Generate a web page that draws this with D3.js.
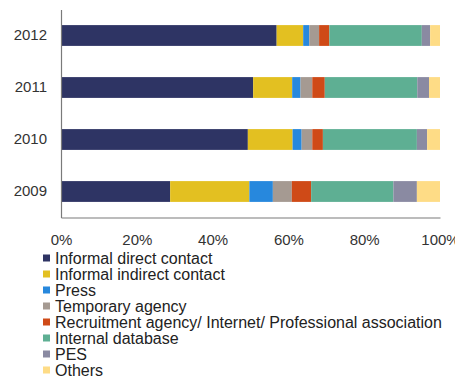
<!DOCTYPE html>
<html>
<head>
<meta charset="utf-8">
<script src="https://cdn.jsdelivr.net/npm/d3@7"></script>
<style>
  html, body { margin: 0; padding: 0; background: #fff; }
  svg { display: block; }
  svg text { font-family: "Liberation Sans", Arial, sans-serif; }
</style>
</head>
<body>
<svg id="chart" width="455" height="378"></svg>
<script>
// Recruitment channels by year (share of hires, %)
const years = ["2012", "2011", "2010", "2009"];
const channels = [
  "Informal direct contact",
  "Informal indirect contact",
  "Press",
  "Temporary agency",
  "Recruitment agency/ Internet/ Professional association",
  "Internal database",
  "PES",
  "Others"
];
const informalDirect   = [56.9, 50.7, 49.3, 28.8];
const informalIndirect = [7.0, 10.3, 11.8, 20.9];
const press            = [1.6, 2.2, 2.4, 6.2];
const temporaryAgency  = [2.6, 3.1, 2.8, 5.0];
const recruitmentAgency= [2.7, 3.3, 2.8, 5.1];
const internalDatabase = [24.4, 24.4, 24.8, 21.7];
const pes              = [2.2, 3.1, 2.7, 6.2];
const others           = [2.6, 2.9, 3.4, 6.1];
const xTicks = [0, 20, 40, 60, 80, 100];
const colors = ["#2e3464", "#e3c021", "#2788dd", "#a59a92", "#cf4a17", "#5eaf93", "#8a8aa2", "#fedc86"];

const seriesValues = [informalDirect, informalIndirect, press, temporaryAgency,
                      recruitmentAgency, internalDatabase, pes, others];
const table = years.map((yr, i) => {
  const row = { year: yr };
  channels.forEach((c, k) => { row[c] = seriesValues[k][i]; });
  return row;
});

const svg = d3.select("#chart");
const plot = { left: 61, right: 440, top: 9.5, bottom: 217.5 };
const FONT = "'Liberation Sans', Arial, sans-serif";

const x = d3.scaleLinear().domain([0, 100]).range([plot.left, plot.right]);
const y = d3.scaleBand().domain(years).range([plot.top, plot.bottom]).paddingInner(0.6).paddingOuter(0.3);
const color = d3.scaleOrdinal().domain(channels).range(colors);

const stacked = d3.stack().keys(channels)(table);

svg.append("g")
  .selectAll("g")
  .data(stacked)
  .join("g")
  .attr("fill", d => color(d.key))
  .selectAll("rect")
  .data(d => d)
  .join("rect")
  .attr("x", d => x(d[0]))
  .attr("width", d => x(d[1]) - x(d[0]))
  .attr("y", d => y(d.data.year))
  .attr("height", y.bandwidth());

// Axes
const xAxis = svg.append("g")
  .attr("transform", `translate(0,${plot.bottom})`)
  .call(d3.axisBottom(x).tickValues(xTicks).tickFormat(d => d + "%").tickSize(0).tickPadding(17));
xAxis.attr("font-family", null);
xAxis.select(".domain").attr("stroke", "#7a7a7a").attr("stroke-width", 1.2);
xAxis.selectAll("text").style("font-family", FONT).style("font-size", "15px").attr("fill", "#333");

const yAxis = svg.append("g")
  .attr("transform", `translate(${plot.left},0)`)
  .call(d3.axisLeft(y).tickSize(0).tickPadding(14));
yAxis.attr("font-family", null);
yAxis.select(".domain").attr("stroke", "#7a7a7a").attr("stroke-width", 1.2);
yAxis.selectAll("text").style("font-family", FONT).style("font-size", "15px").attr("fill", "#333");

// Legend
const legend = svg.append("g").attr("transform", "translate(43,258)");
const item = legend.selectAll("g")
  .data(channels)
  .join("g")
  .attr("transform", (d, i) => `translate(0,${i * 16})`);
item.append("rect")
  .attr("x", 0).attr("y", -3.5)
  .attr("width", 7).attr("height", 7)
  .attr("fill", d => color(d));
item.append("text")
  .attr("x", 12).attr("y", 0)
  .attr("dy", "0.35em")
  .style("font-family", FONT)
  .style("font-size", "16px")
  .attr("fill", "#222")
  .text(d => d);
</script>
</body>
</html>
